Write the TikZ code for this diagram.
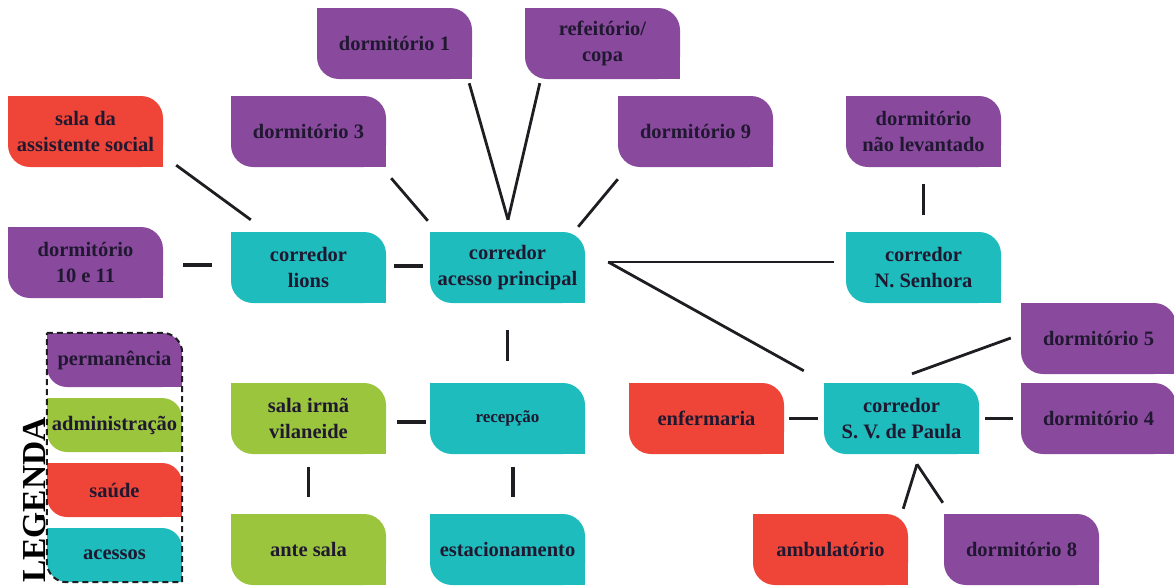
\documentclass[tikz,border=0pt]{standalone}
\usepackage{fontspec}
\setmainfont{Liberation Serif}
\usetikzlibrary{backgrounds}
\definecolor{roxo}{RGB}{137,74,158}
\definecolor{verm}{RGB}{239,69,56}
\definecolor{verde}{RGB}{154,197,61}
\definecolor{ciano}{RGB}{30,188,189}
\definecolor{tinta}{RGB}{32,24,48}
\definecolor{traco}{RGB}{30,30,34}
\tikzset{
  roombox/.style={rectangle, rounded corners=22pt, minimum width=155pt, minimum height=71pt,
    inner sep=0pt, align=center, text=tinta, font=\fontsize{20.5}{26}\selectfont\bfseries},
  legbox/.style={roombox, rounded corners=20pt, minimum width=135pt, minimum height=54pt},
  link/.style={line width=2.8pt, draw=traco},
  shortlink/.style={line width=3.6pt, draw=traco},
}
\newcommand\sqcorners[3]{%
  \begin{pgfonlayer}{background}
    \fill[#2] (#1.north west) rectangle ++(#3,#3);
    \fill[#2] (#1.south east) rectangle ++(-#3,-#3);
  \end{pgfonlayer}}
\newcommand\room[5]{\node[roombox, fill=#4] (#1) at (#2,#3) {#5}; \sqcorners{#1}{#4}{22}}
\newcommand\legitem[4]{\node[legbox, fill=#3] (#1) at (114.5,#2) {#4}; \sqcorners{#1}{#3}{20}}
\begin{document}
\begin{tikzpicture}[x=1pt, y=-1pt]
\useasboundingbox (0,0) rectangle (1174,587);
% rooms
\room{d1}{394.5}{43.5}{roxo}{dormitório 1}
\room{refe}{602.5}{43.5}{roxo}{refeitório/\\copa}
\room{d3}{308.5}{131.5}{roxo}{dormitório 3}
\room{d9}{695.5}{131.5}{roxo}{dormitório 9}
\room{social}{85.5}{131.5}{verm}{sala da\\assistente social}
\room{dnl}{923.5}{131.5}{roxo}{dormitório\\não levantado}
\room{d1011}{85.5}{262.5}{roxo}{dormitório\\10 e 11}
\room{lions}{308.5}{267.5}{ciano}{corredor\\lions}
\room{acesso}{507.5}{267.5}{ciano}{corredor\\acesso principal}
\room{senhora}{923.5}{267.5}{ciano}{corredor\\N. Senhora}
\room{d5}{1098.5}{338.5}{roxo}{dormitório 5}
\room{irma}{308.5}{418.5}{verde}{sala irmã\\vilaneide}
\node[roombox, fill=ciano, font=\fontsize{17}{20}\selectfont\bfseries] (recep) at (507.5,418.5) {recepção};
\sqcorners{recep}{ciano}{22}
\room{enf}{706.5}{418.5}{verm}{enfermaria}
\room{svp}{901.5}{418.5}{ciano}{corredor\\S. V. de Paula}
\room{d4}{1098.5}{418.5}{roxo}{dormitório 4}
\room{ante}{308.5}{549.5}{verde}{ante sala}
\room{estac}{507.5}{549.5}{ciano}{estacionamento}
\room{amb}{830.5}{549.5}{verm}{ambulatório}
\room{d8}{1021.5}{549.5}{roxo}{dormitório 8}
% legend
\legitem{lperm}{360}{roxo}{permanência}
\legitem{ladm}{425}{verde}{administração}
\legitem{lsau}{490}{verm}{saúde}
\legitem{lace}{555}{ciano}{acessos}
\draw[line width=2pt, draw=traco, dash pattern=on 6pt off 4pt]
  (lperm.north west) -- ([shift={(-20,0)}]lperm.north east)
  .. controls ([shift={(-9,0)}]lperm.north east) and ([shift={(0,9)}]lperm.north east) .. ([shift={(0,20)}]lperm.north east)
  -- (lace.south east) -- ([shift={(20,0)}]lace.south west)
  .. controls ([shift={(9,0)}]lace.south west) and ([shift={(0,-9)}]lace.south west) .. ([shift={(0,-20)}]lace.south west)
  -- cycle;
\node[rotate=90, inner sep=0pt, text=black, font=\fontsize{33.5}{34}\selectfont\bfseries] (legenda) at (35,500) {LEGENDA};
% connectors
\draw[link] ([shift={(13,-2)}]social.south east) -- ([shift={(20,-12)}]lions.north west);
\draw[link] ([shift={(5,11)}]d3.south east) -- ([shift={(-2,-11)}]acesso.north west);
\draw[link] ([shift={(-3,4)}]d1.south east) -- ([shift={(0.5,-12)}]acesso.north);
\draw[link] ([shift={(15,4)}]refe.south west) -- ([shift={(0.5,-12)}]acesso.north);
\draw[link] ([shift={(0,12)}]d9.south west) -- ([shift={(-7,-5)}]acesso.north east);
\draw[shortlink] ([shift={(20,2.5)}]d1011.east) -- ([shift={(-19,-2.5)}]lions.west);
\draw[shortlink] ([shift={(8,-1.5)}]lions.east) -- ([shift={(-7,-1.5)}]acesso.west);
\draw[link] ([shift={(23,-5.5)}]acesso.east) -- ([shift={(-12,-5.5)}]senhora.west);
\draw[link] ([shift={(23,-5.5)}]acesso.east) -- ([shift={(-20,-12)}]svp.north west);
\draw[shortlink] ([shift={(0,17)}]dnl.south) -- ([shift={(0,-17)}]senhora.north);
\draw[shortlink] ([shift={(0,27)}]acesso.south) -- ([shift={(0,-22)}]recep.north);
\draw[shortlink] ([shift={(11,3.5)}]irma.east) -- ([shift={(-4,3.5)}]recep.west);
\draw[shortlink] ([shift={(0,13)}]irma.south) -- ([shift={(0,-17)}]ante.north);
\draw[shortlink] ([shift={(5.5,13)}]recep.south) -- ([shift={(5.5,-17)}]estac.north);
\draw[shortlink] ([shift={(5,0)}]enf.east) -- ([shift={(-6,0)}]svp.west);
\draw[shortlink] ([shift={(6,0)}]svp.east) -- ([shift={(-8,0)}]d4.west);
\draw[link] ([shift={(10.5,-9)}]svp.north) -- ([shift={(-10,-0.5)}]d5.west);
\draw[link] ([shift={(-5,-5)}]amb.north east) -- ([shift={(15.5,10)}]svp.south);
\draw[link] ([shift={(15.5,10)}]svp.south) -- ([shift={(-1,-11)}]d8.north west);
\end{tikzpicture}
\end{document}
